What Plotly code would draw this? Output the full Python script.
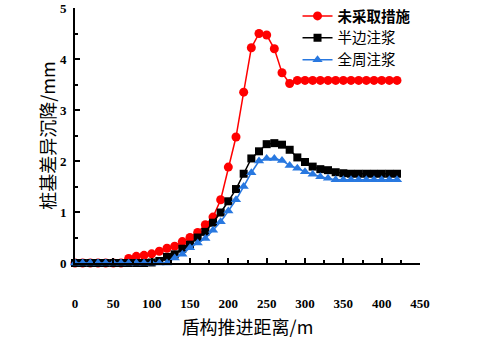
import plotly.graph_objects as go

x = list(range(0, 430, 10))

red = [0, 0, 0, 0, 0, 0, 0, 0.09, 0.13, 0.15, 0.18, 0.23, 0.29, 0.33, 0.42, 0.50, 0.60, 0.75, 0.90, 1.24,
       1.88, 2.47, 3.35, 4.22, 4.50, 4.47, 4.20, 3.73, 3.52, 3.58, 3.58, 3.58, 3.58, 3.58, 3.58, 3.58,
       3.58, 3.58, 3.58, 3.58, 3.58, 3.58, 3.58]
black = [0, 0, 0, 0, 0, 0, 0, 0, 0, 0, 0.01, 0.04, 0.12, 0.17, 0.28, 0.36, 0.50, 0.61, 0.79, 0.99,
         1.21, 1.45, 1.75, 2.05, 2.19, 2.33, 2.35, 2.32, 2.22, 2.07, 1.98, 1.89, 1.84, 1.82, 1.78, 1.76,
         1.75, 1.75, 1.75, 1.75, 1.75, 1.75, 1.75]
blue = [0, 0, 0, 0, 0, 0, 0, 0, 0, 0, 0, 0, 0, 0.10, 0.17, 0.30, 0.39, 0.48, 0.64, 0.81,
        1.02, 1.24, 1.50, 1.77, 2.00, 2.05, 2.05, 2.01, 1.91, 1.86, 1.79, 1.74, 1.69, 1.66, 1.63, 1.63,
        1.63, 1.63, 1.63, 1.63, 1.63, 1.63, 1.63]

names = ["<b>未采取措施</b>", "半边注浆", "全周注浆"]
colors = ["#FF0000", "#000000", "#2878E0"]
symbols = ["circle", "square", "triangle-up"]
sizes = [9, 8, 9]

fig = go.Figure()
for ys, n, c, s, sz in zip([red, black, blue], names, colors, symbols, sizes):
    fig.add_trace(go.Scatter(x=x, y=ys, name=n, mode="lines+markers",
                             line=dict(color=c, width=1.5),
                             marker=dict(color=c, symbol=s, size=sz),
                             cliponaxis=False))

tickfont = dict(family="Liberation Serif", size=13, color="black", weight="bold")
titlefont = dict(family="Noto Sans CJK SC", size=18, color="black")

fig.update_layout(
    width=497, height=339,
    margin=dict(l=75, r=77, t=8, b=76, autoexpand=False),
    paper_bgcolor="white", plot_bgcolor="white",
    showlegend=True,
    legend=dict(x=0.645, y=1.0, xanchor="left", yanchor="top", yref="container",
                font=dict(family="Noto Sans CJK SC", size=14.5, color="black"),
                bgcolor="rgba(0,0,0,0)", itemwidth=30, tracegroupgap=0),
    xaxis=dict(range=[0, 450], tickmode="linear", tick0=0, dtick=50, automargin=False,
               ticks="inside", ticklen=5, tickwidth=1.5, tickcolor="black",
               showline=True, linecolor="black", linewidth=2, mirror=False,
               showgrid=False, zeroline=False,
               minor=dict(ticks="inside", ticklen=3, tickwidth=1.5, dtick=25, tickcolor="black"),
               tickfont=tickfont, ticklabelstandoff=27,
               title=dict(text="盾构推进距离/m", font=titlefont, standoff=19)),
    yaxis=dict(range=[0, 5], tickmode="linear", tick0=0, dtick=1, automargin=False,
               ticks="inside", ticklen=5, tickwidth=1.5, tickcolor="black",
               showline=True, linecolor="black", linewidth=2, mirror=False,
               showgrid=False, zeroline=False,
               minor=dict(ticks="inside", ticklen=3, tickwidth=1.5, dtick=0.5, tickcolor="black"),
               tickfont=tickfont, ticklabelstandoff=4,
               title=dict(text="桩基差异沉降/mm", font=titlefont, standoff=0)),
)

fig.write_html("out.html")
